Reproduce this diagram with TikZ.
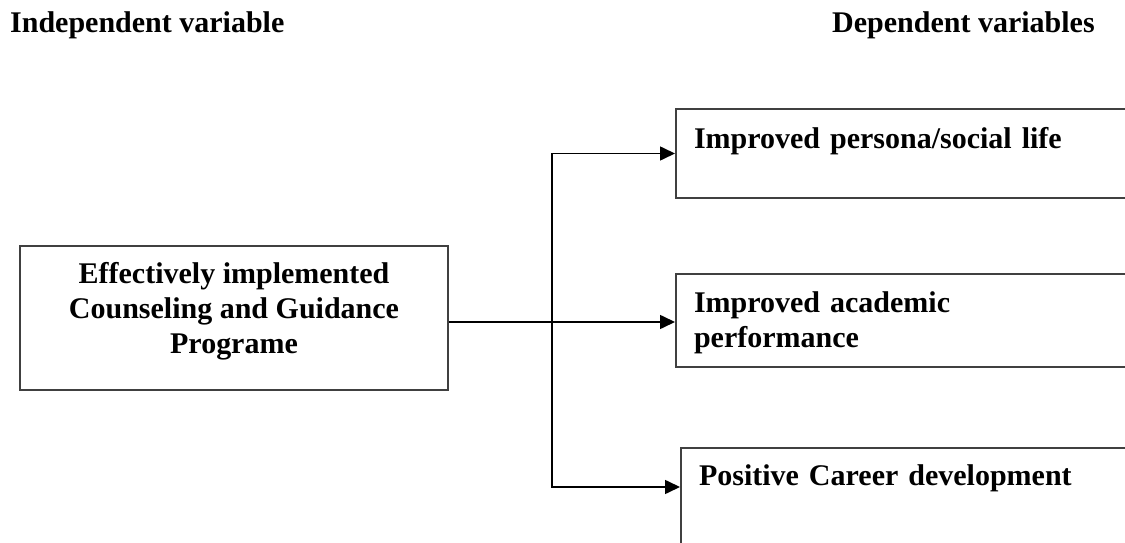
\documentclass[tikz,border=0pt]{standalone}
\usepackage{fontspec}
\setmainfont{Liberation Serif}
\usetikzlibrary{arrows.meta,positioning}

\begin{document}
\begin{tikzpicture}[x=1pt, y=1pt,
  font=\fontsize{30}{35}\selectfont\bfseries,
  block/.style={rectangle, draw=black!75, line width=2pt, inner sep=0pt},
  outcome/.style={block, anchor=north west, inner xsep=18pt, text width=470pt, align=left, text height=38pt},
  heading/.style={anchor=base west, inner sep=0pt},
  link/.style={line width=1.6pt},
  arrow/.style={-{Triangle[length=15pt,width=14pt]}, line width=1.6pt}]

\useasboundingbox (0,0) rectangle (1125,542);
\clip (0,0) rectangle (1125,542);

\node[heading] (indep) at (10,509) {Independent variable};
\node[heading] (dep) at (832,509) {Dependent variables};

\node[block, minimum width=428pt, minimum height=144pt, align=center, text depth=21pt] (program) at (234,224) {Effectively implemented\\Counseling and Guidance\\Programe};

\node[outcome, text height=40pt, text depth=49pt] (social) at (675,434) {Improved persona/social life};
\node[outcome, text depth=55pt] (academic) at (675,269) {Improved academic\\performance};
\node[outcome, text height=37pt, text depth=80pt] (career) at (680,95) {Positive Career development};

\coordinate (split) at (552,220);

\draw[link] (program.east |- split) -- (split);
\draw[arrow] (split) -- (academic.west |- split);
\draw[arrow] (split) |- (social.west);
\draw[arrow] (split) |- ([yshift=-40pt]career.north west);
\end{tikzpicture}
\end{document}
